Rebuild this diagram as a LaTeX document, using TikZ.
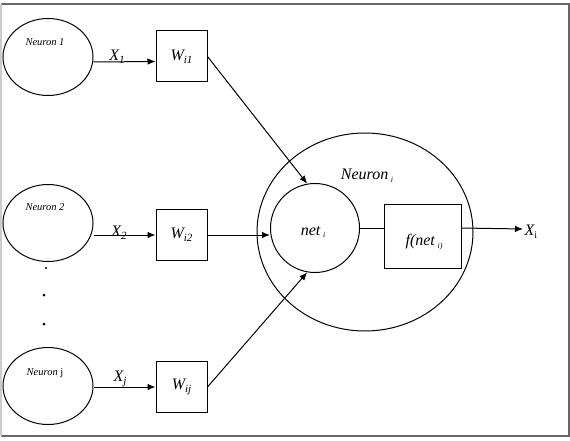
\documentclass[tikz,border=0pt]{standalone}
\usepackage{fontspec}
\setmainfont{Liberation Serif}
\usetikzlibrary{shapes.geometric,arrows.meta}
\newcommand{\lowsub}[2][9]{\raisebox{-0.35ex}{\fontsize{#1}{#1}\selectfont #2}}
\begin{document}
\begin{tikzpicture}[x=1pt,y=-1pt,
  line width=1pt,
  ell/.style={draw, ellipse, inner sep=0pt},
  wbox/.style={draw, rectangle, minimum width=51pt, minimum height=51pt, inner sep=0pt, font=\fontsize{16}{16}\selectfont\itshape},
  small/.style={font=\fontsize{10.5}{10.5}\selectfont\itshape, inner sep=0pt},
  xlab/.style={font=\fontsize{16}{16}\selectfont\itshape, inner sep=0pt},
  big/.style={font=\fontsize{16}{16}\selectfont\itshape, inner sep=0pt},
  arr/.style={-{Latex[length=8pt,width=6.5pt]}}
]
\useasboundingbox (0,0) rectangle (570,441);
\draw[gray!80!black, line width=1.6pt] (1,4) -- (569,4) -- (569,436) -- (1,436);
\draw[gray!40, line width=1.6pt] (1,4) -- (1,436);

% input neurons
\node[ell, minimum width=90pt, minimum height=77pt] (n1) at (48,57) {};
\node[ell, minimum width=90pt, minimum height=77pt] (n2) at (48,223) {};
\node[ell, minimum width=90pt, minimum height=77pt] (nj) at (48,386) {};
\node[small] (l1) at (45,42) {Neuron 1};
\node[small] (l2) at (45,207) {Neuron 2};
\node[small] (lj) at (45,373) {Neuron \upshape j};

% dots
\fill (46,268) circle (1.2pt);
\fill (44,295) circle (1.5pt);
\fill (44,324) circle (1.5pt);

% weight boxes
\node[wbox] (w1) at (181.5,56.5) {W\lowsub[11]{i1}};
\node[wbox] (w2) at (181.5,235) {W\lowsub[11]{i2}};
\node[wbox] (wj) at (181.5,387) {W\lowsub[11]{ij}};

\draw[arr] ([yshift=-5pt]n1.east) -- ([yshift=-5pt]w1.west);
\draw[arr] (n2.east |- w2.west) -- (w2.west);
\draw[arr] (nj.east |- wj.west) -- (wj.west);

\node[xlab] (x1) at (117,57) {X\lowsub[11]{1}};
\node[xlab] (x2) at (119,233) {X\lowsub[11]{2}};
\node[xlab] (xj) at (120,379) {X\lowsub[11]{j}};

% neuron i
\node[ell, minimum width=216pt, minimum height=198pt] (ni) at (365,232) {};
\node[big] (nil) at (367,176) {Neuron\,\lowsub[8]{i}};
\node[draw, circle, minimum size=89pt, inner sep=0pt] (net) at (315,228) {};
\node[big] (netl) at (313,232) {net\,\lowsub[8]{i}};
\node[draw, rectangle, minimum width=77pt, minimum height=64pt, inner sep=0pt] (f) at (422.5,236) {};
\node[big] (fl) at (424,242) {f(net\,\lowsub[8]{i)}};

\draw[arr] (w1.east) -- (net.100);
\draw[arr] (w2.east) -- (w2.east -| net.west);
\draw[arr] (wj.east) -- (net.260);
\draw (net.east) -- (f.west |- net.east);
\coordinate (out) at (523,229);
\draw[arr] (f.east |- net.east) -- (out);
\node[xlab, anchor=west] (xi) at (524,232) {X\lowsub[10]{\upshape i}};
\end{tikzpicture}
\end{document}
